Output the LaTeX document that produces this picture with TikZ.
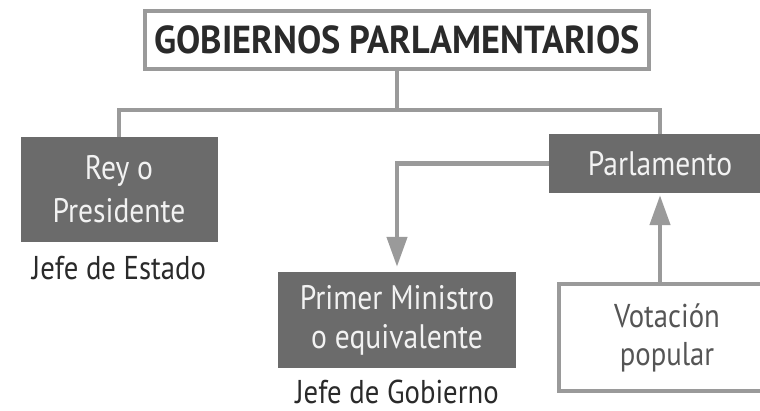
\documentclass[tikz,border=0pt]{standalone}
\usepackage{fontspec}
\setmainfont{PT Sans}[FakeStretch=0.87]
\newfontfamily\titlefamily{PT Sans}[FakeStretch=0.93]
\usetikzlibrary{arrows.meta}
\definecolor{linegray}{HTML}{9A9A9A}
\definecolor{boxgray}{HTML}{6B6B6B}
\definecolor{boxtext}{HTML}{F2F2F2}
\definecolor{darktext}{HTML}{2A2A2A}
\definecolor{votetext}{HTML}{555555}
\newcommand{\boxfont}{\fontsize{34}{43}\selectfont}

\begin{document}
\begin{tikzpicture}[x=1pt,y=-1pt,
    conn/.style={draw=linegray,line width=4.5pt},
    arr/.style={conn,-{Triangle[length=30pt,width=20pt]}},
    darkbox/.style={fill=boxgray,text=boxtext,align=center,inner sep=0pt,font=\boxfont},
    whitebox/.style={draw=linegray,line width=4pt,fill=white,align=center,inner sep=0pt},
    caption/.style={anchor=base,text=darktext,inner sep=0pt,font=\fontsize{33}{40}\selectfont}]

        \useasboundingbox (0,0) rectangle (760,411);
        \clip (0,0) rectangle (760,411);

        % Title
        \node[whitebox,minimum width=504pt,minimum height=58pt,text=darktext,
              font=\titlefamily\fontsize{39}{44}\bfseries] (title) at (397,40) {GOBIERNOS PARLAMENTARIOS};

        % Boxes
        \node[darkbox,minimum width=197pt,minimum height=105pt] (rey) at (119,189.5) {Rey o\\Presidente};
        \node[darkbox,minimum width=222pt,minimum height=59pt] (parl) at (660,163.5) {Parlamento};
        \node[darkbox,minimum width=238pt,minimum height=96pt,
              font=\fontsize{34}{39}\selectfont] (primer) at (397,320) {Primer Ministro\\o equivalente};
        \node[whitebox,minimum width=216pt,minimum height=107pt,text=votetext,
              font=\fontsize{33}{38}\selectfont] (vot) at (667,337.5) {Votación\\popular};

        % Labels under the boxes
        \node[caption] (jefeEstado) at (119,280) {Jefe de Estado};
        \node[caption] (jefeGob) at (397,403) {Jefe de Gobierno};

        % Tree lines
        \coordinate (fork) at (397,110);
        \draw[conn] (title.south) -- (fork);
        \draw[conn] (rey.north) |- (fork) -| (parl.north);

        % Arrows
        \draw[arr,shorten >=5pt] (parl.west) -| (primer.north);
        \draw[arr,shorten >=2pt] (vot.north -| parl.south) -- (parl.south);
    \end{tikzpicture}
\end{document}
